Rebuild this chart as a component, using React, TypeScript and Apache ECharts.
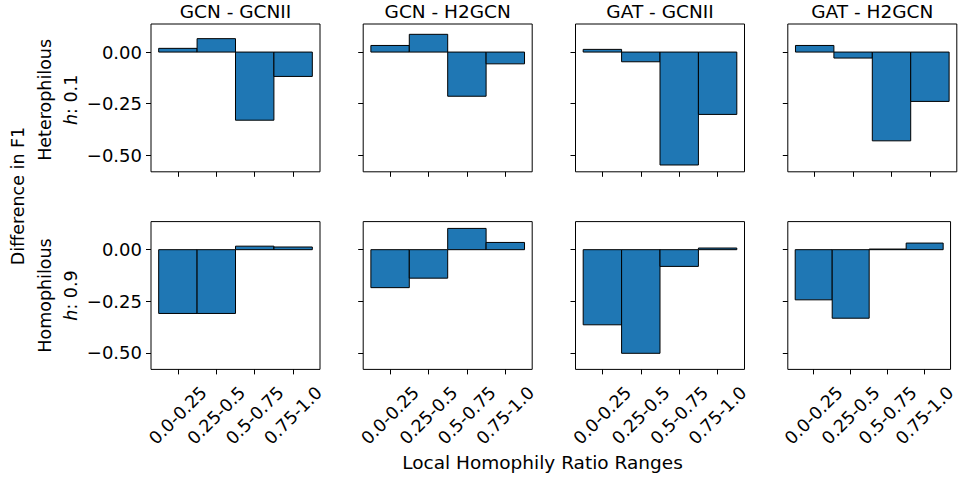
import React, { useEffect, useRef } from "react";
import * as echarts from "echarts";

const categories = ["0.0-0.25", "0.25-0.5", "0.5-0.75", "0.75-1.0"];
const titles = ["GCN - GCNII", "GCN - H2GCN", "GAT - GCNII", "GAT - H2GCN"];
const heteroGcnGcnii = [0.018, 0.065, -0.33, -0.118];
const heteroGcnH2gcn = [0.032, 0.086, -0.214, -0.057];
const heteroGatGcnii = [0.013, -0.047, -0.547, -0.302];
const heteroGatH2gcn = [0.032, -0.029, -0.43, -0.239];
const homoGcnGcnii = [-0.309, -0.309, 0.017, 0.013];
const homoGcnH2gcn = [-0.184, -0.138, 0.103, 0.035];
const homoGatGcnii = [-0.364, -0.502, -0.081, 0.008];
const homoGatH2gcn = [-0.243, -0.332, 0.003, 0.032];
const yTicks = [-0.5, -0.25, 0];
const xTicks = [0, 1, 2, 3];
const rowLabels = [
  { name: "Heterophilous", h: "0.1" },
  { name: "Homophilous", h: "0.9" },
];
const xLabel = "Local Homophily Ratio Ranges";
const yLabel = "Difference in F1";

const rows = [
  [heteroGcnGcnii, heteroGcnH2gcn, heteroGatGcnii, heteroGatH2gcn],
  [homoGcnGcnii, homoGcnH2gcn, homoGatGcnii, homoGatH2gcn],
];

const FONT = "DejaVu Sans";
const lefts = [151, 363.2, 575.5, 787.8];
const panelW = 169;
const tops = [24, 221.6];
const panelH = 147.8;

function fmtY(v: number) {
  if (Math.abs(v) < 1e-9) return "0.00";
  return (v < 0 ? "\u2212" : "") + Math.abs(v).toFixed(2);
}

export default function App() {
  const ref = useRef<HTMLDivElement>(null);
  useEffect(() => {
    if (!ref.current) return;
    const chart = echarts.init(ref.current, null, { renderer: "svg" });
    const grids: any[] = [];
    const xAxes: any[] = [];
    const yAxes: any[] = [];
    const series: any[] = [];
    rows.forEach((row, r) => {
      row.forEach((vals, c) => {
        const idx = grids.length;
        grids.push({
          left: lefts[c],
          top: tops[r],
          width: panelW,
          height: panelH,
          show: true,
          borderColor: "#000",
          borderWidth: 1,
          backgroundColor: "#fff",
        });
        xAxes.push({
          type: "value",
          gridIndex: idx,
          position: "bottom",
          min: -0.7,
          max: 3.7,
          axisLine: { show: false, onZero: false },
          splitLine: { show: false },
          axisTick: {
            show: true,
            customValues: xTicks,
            length: 5,
            lineStyle: { color: "#000", width: 1 },
          },
          axisLabel: {
            show: r === 1,
            customValues: xTicks,
            formatter: (v: number) => categories[Math.round(v)],
            rotate: 45,
            align: "center",
            verticalAlign: "middle",
            margin: 46,
            fontFamily: FONT,
            fontSize: 17.5,
            color: "#000",
          },
        });
        yAxes.push({
          type: "value",
          gridIndex: idx,
          position: "left",
          min: -0.58,
          max: 0.136,
          axisLine: { show: false, onZero: false },
          splitLine: { show: false },
          axisTick: {
            show: true,
            customValues: yTicks,
            length: 5,
            lineStyle: { color: "#000", width: 1 },
          },
          axisLabel: {
            show: c === 0,
            customValues: yTicks,
            formatter: (v: number) => fmtY(v),
            margin: 9,
            fontFamily: FONT,
            fontSize: 18,
            color: "#000",
          },
        });
        series.push({
          type: "custom",
          xAxisIndex: idx,
          yAxisIndex: idx,
          encode: { x: 0, y: 1 },
          data: vals.map((v, i) => [i, v]),
          renderItem: (params: any, api: any) => {
            const i = api.value(0);
            const v = api.value(1);
            const p1 = api.coord([i - 0.5, v]);
            const p2 = api.coord([i + 0.5, 0]);
            return {
              type: "rect",
              shape: {
                x: Math.min(p1[0], p2[0]),
                y: Math.min(p1[1], p2[1]),
                width: Math.abs(p2[0] - p1[0]),
                height: Math.abs(p2[1] - p1[1]),
              },
              style: { fill: "#1f77b4", stroke: "#000", lineWidth: 1 },
            };
          },
        });
      });
    });

    const graphics: any[] = [];
    titles.forEach((t, c) => {
      graphics.push({
        type: "text",
        x: lefts[c] + panelW / 2,
        y: 11.5,
        style: {
          text: t,
          fontFamily: FONT,
          fontSize: 18.5,
          fill: "#000",
          align: "center",
          verticalAlign: "middle",
        },
      });
    });
    rowLabels.forEach((rl, r) => {
      graphics.push({
        type: "text",
        x: 58,
        y: tops[r] + panelH / 2 + (r === 0 ? 2 : 0),
        rotation: Math.PI / 2,
        style: {
          text: `{n|${rl.name}}\n{i|h}{n|: ${rl.h}}`,
          align: "center",
          verticalAlign: "middle",
          fill: "#000",
          rich: {
            n: { fontFamily: FONT, fontSize: 17.5, lineHeight: 26, fill: "#000" },
            i: {
              fontFamily: FONT,
              fontSize: 17.5,
              fontStyle: "italic",
              lineHeight: 26,
              fill: "#000",
            },
          },
        },
      });
    });
    graphics.push({
      type: "text",
      x: 17.5,
      y: 196,
      rotation: Math.PI / 2,
      style: {
        text: yLabel,
        fontFamily: FONT,
        fontSize: 17.5,
        fill: "#000",
        align: "center",
        verticalAlign: "middle",
      },
    });
    graphics.push({
      type: "text",
      x: 542.5,
      y: 462.5,
      style: {
        text: xLabel,
        fontFamily: FONT,
        fontSize: 18.5,
        fill: "#000",
        align: "center",
        verticalAlign: "middle",
      },
    });

    chart.setOption({
      animation: false,
      backgroundColor: "#fff",
      grid: grids,
      xAxis: xAxes,
      yAxis: yAxes,
      series,
      graphic: graphics,
    });
    return () => chart.dispose();
  }, []);
  return (
    <div
      ref={ref}
      style={{ position: "fixed", left: 0, top: 0, width: 959, height: 478 }}
    />
  );
}
